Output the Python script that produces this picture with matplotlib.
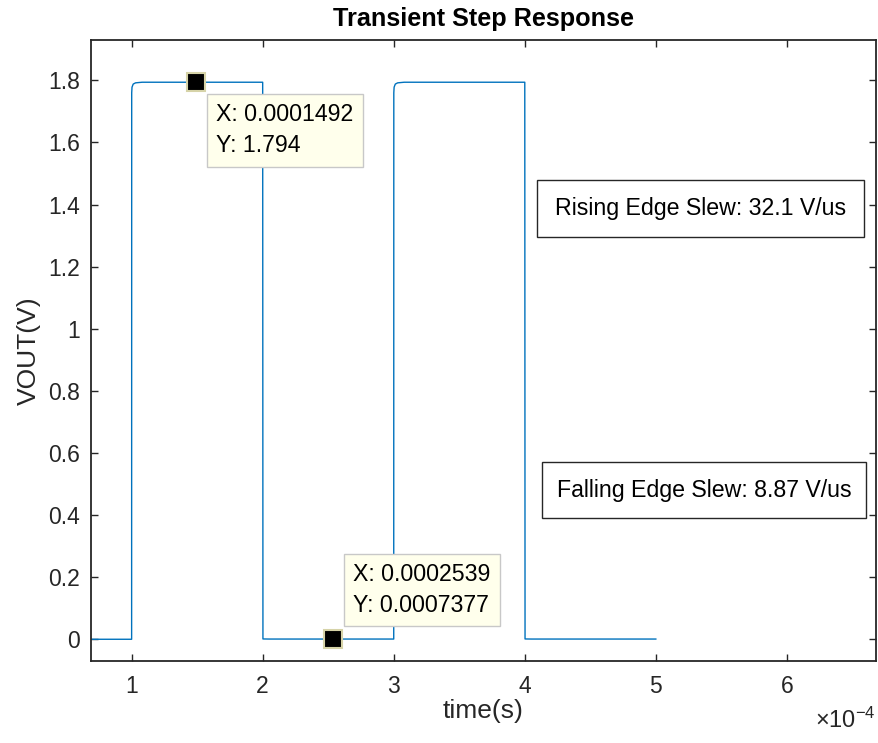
import numpy as np
import matplotlib
matplotlib.use('Agg')
import matplotlib.pyplot as plt
from matplotlib.patches import Rectangle
from matplotlib.ticker import FuncFormatter, FixedLocator

plt.rcParams['font.family'] = ['Liberation Sans', 'DejaVu Sans']
plt.rcParams['mathtext.fontset'] = 'custom'
plt.rcParams['mathtext.rm'] = 'Liberation Sans'
plt.rcParams['mathtext.it'] = 'Liberation Sans'

# transient output (seconds, volts)
time_s = [0.0, 1.0000e-4, 1.0006e-4, 1.0030e-4, 1.0120e-4, 1.0300e-4, 1.0800e-4,
          2.0000e-4, 2.0020e-4, 2.0500e-4,
          3.0000e-4, 3.0006e-4, 3.0030e-4, 3.0120e-4, 3.0300e-4, 3.0800e-4,
          4.0000e-4, 4.0020e-4, 4.0500e-4, 5.0000e-4]
vout = [0.0, 0.0, 1.760, 1.778, 1.788, 1.792, 1.794,
        1.794, 0.0010, 0.0007,
        0.0007, 1.760, 1.778, 1.788, 1.792, 1.794,
        1.794, 0.0010, 0.0007, 0.0007]

tip_x = [0.0001492, 0.0002539]
tip_y = [1.794, 0.0007377]
tip_labels = ['X: 0.0001492\nY: 1.794', 'X: 0.0002539\nY: 0.0007377']

rise_txt = 'Rising Edge Slew: 32.1 V/us'
fall_txt = 'Falling Edge Slew: 8.87 V/us'

W, H = 879, 743
fig = plt.figure(figsize=(W/100, H/100), dpi=100)
ax = fig.add_axes([91/W, (H-661)/H, (876-91)/W, (661-40)/H])

ax.plot(time_s, vout, color='#0072BD', lw=1.0)

ax.set_xlim(0.69e-4, 6.68e-4)
ax.set_ylim(-0.07, 1.93)
ax.xaxis.set_major_locator(FixedLocator([1e-4, 2e-4, 3e-4, 4e-4, 5e-4, 6e-4]))
ax.xaxis.set_major_formatter(FuncFormatter(lambda v, p: '%g' % round(v*1e4, 6)))
ax.set_yticks(np.arange(0, 1.81, 0.2))
ax.yaxis.set_major_formatter(FuncFormatter(lambda v, p: '%g' % round(v, 6)))

dark = '#262626'
for s in ax.spines.values():
    s.set_linewidth(1.3)
    s.set_color(dark)
ax.tick_params(direction='in', length=5, width=1, colors=dark, labelsize=16.5,
               top=True, right=True)
ax.tick_params(axis='x', pad=10)
ax.tick_params(axis='y', pad=8)

ax.set_title('Transient Step Response', fontsize=18.2, fontweight='bold', pad=10)
ax.set_xlabel('time(s)', fontsize=19, color=dark, labelpad=1)
ax.set_ylabel('VOUT(V)', fontsize=19, color=dark, labelpad=5)

fig.text(876/W, 1-728/H, r'$\times10^{-4}$', ha='right', va='baseline',
         fontsize=17, color=dark)

# data tips
ax.plot(tip_x, tip_y, 's', ms=13, mfc='black', mec='#D6D3A8', mew=1.5, zorder=5)
ax.annotate(tip_labels[0], xy=(tip_x[0], tip_y[0]), xytext=(20, -21),
            textcoords='offset pixels', ha='left', va='top', fontsize=16.7,
            linespacing=1.45, zorder=6,
            bbox=dict(boxstyle='square,pad=0.4', fc='#FFFFEC', ec='#C8C8C8', lw=1))
ax.annotate(tip_labels[1], xy=(tip_x[1], tip_y[1]), xytext=(20, 22),
            textcoords='offset pixels', ha='left', va='bottom', fontsize=16.7,
            linespacing=1.45, zorder=6,
            bbox=dict(boxstyle='square,pad=0.4', fc='#FFFFEC', ec='#C8C8C8', lw=1))

# slew annotations
for (x0, x1, y0, y1, txt) in [(537, 864, 180, 237, rise_txt), (542, 866, 462, 518, fall_txt)]:
    fig.patches.append(Rectangle((x0/W, 1-y1/H), (x1-x0)/W, (y1-y0)/H,
                                 transform=fig.transFigure, fill=False,
                                 ec=dark, lw=1.0))
    fig.text((x0+x1)/2/W, 1-(y0+y1)/2/H, txt, ha='center', va='center',
             fontsize=16.7, color='black')

fig.savefig('out.png', dpi=100)
